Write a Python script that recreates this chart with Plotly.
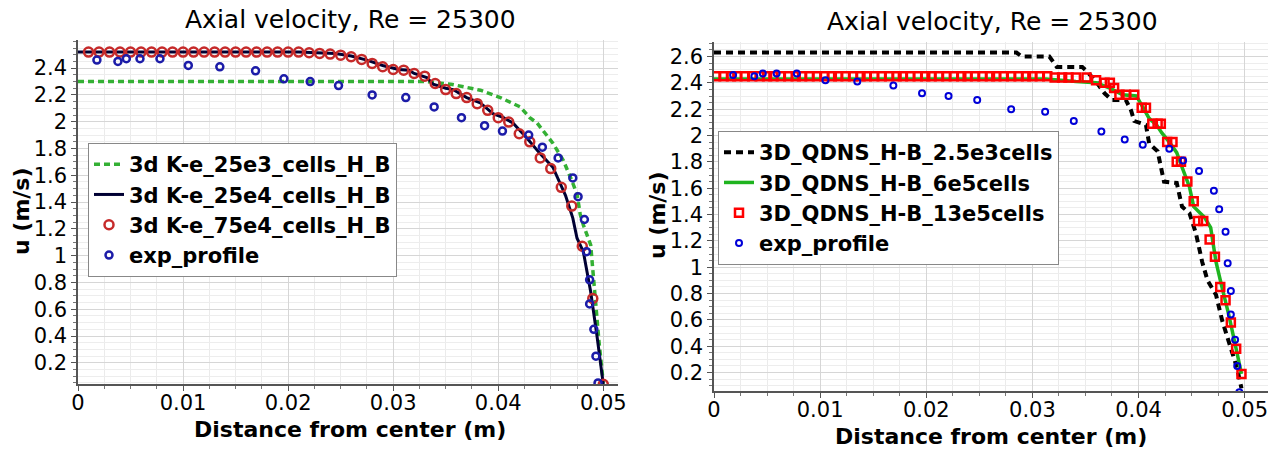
import plotly.graph_objects as go

W, H = 1281, 450

# ---------------- Left chart data ----------------
ke25e3_x = [0.0, 0.033, 0.0355, 0.0367, 0.0383, 0.0402, 0.0421, 0.0430, 0.0437, 0.0452,
            0.0462, 0.0469, 0.0475, 0.0478, 0.0481, 0.0488, 0.0490, 0.0492, 0.0496, 0.0500]
ke25e3_y = [2.30, 2.30, 2.28, 2.26, 2.235, 2.18, 2.11, 2.03, 1.99, 1.84,
            1.71, 1.58, 1.46, 1.31, 1.23, 1.08, 0.88, 0.68, 0.35, 0.05]

ke25e4_x = [0.0, 0.021, 0.0245, 0.026, 0.0275, 0.029, 0.0305, 0.0315, 0.032, 0.0332,
            0.0338, 0.0350, 0.0357, 0.0370, 0.0383, 0.0395, 0.0405, 0.0414, 0.0427, 0.0440,
            0.0452, 0.0464, 0.0471, 0.0475, 0.0481, 0.0488, 0.0494, 0.0500]
ke25e4_y = [2.52, 2.52, 2.51, 2.49, 2.46, 2.42, 2.39, 2.385, 2.36, 2.33,
            2.28, 2.25, 2.24, 2.18, 2.14, 2.06, 2.03, 1.99, 1.88, 1.76,
            1.66, 1.45, 1.28, 1.13, 1.03, 0.73, 0.40, 0.04]

ke75e4_x = [0.001, 0.002, 0.003, 0.004, 0.005, 0.006, 0.007, 0.008, 0.009, 0.010,
            0.011, 0.012, 0.013, 0.014, 0.015, 0.016, 0.017, 0.018, 0.019, 0.020,
            0.021, 0.022, 0.023, 0.024, 0.025, 0.026, 0.027, 0.028, 0.029, 0.030,
            0.031, 0.032, 0.033, 0.034, 0.035, 0.036, 0.037, 0.038, 0.039, 0.040,
            0.041, 0.042, 0.043, 0.044, 0.045, 0.046, 0.047, 0.048, 0.049, 0.050]
ke75e4_y = [2.52, 2.52, 2.52, 2.52, 2.52, 2.52, 2.52, 2.52, 2.52, 2.52,
            2.52, 2.52, 2.52, 2.52, 2.52, 2.52, 2.52, 2.52, 2.52, 2.52,
            2.52, 2.515, 2.51, 2.505, 2.497, 2.485, 2.465, 2.435, 2.41, 2.39,
            2.385, 2.36, 2.34, 2.285, 2.24, 2.21, 2.18, 2.135, 2.085, 2.03,
            1.997, 1.91, 1.85, 1.73, 1.65, 1.51, 1.37, 1.07, 0.68, 0.04]

# experimental profile (same in both charts)
exp_x = [0.0018, 0.0038, 0.0046, 0.0059, 0.0078, 0.0105, 0.0135, 0.0169, 0.0196, 0.0221,
         0.0248, 0.0280, 0.0312, 0.0339, 0.0365, 0.0387, 0.0404, 0.0429, 0.0442, 0.0457,
         0.0471, 0.0476, 0.0482, 0.0484, 0.0487, 0.0487, 0.0491, 0.0493, 0.0495]
exp_y = [2.46, 2.45, 2.47, 2.47, 2.47, 2.42, 2.41, 2.38, 2.32, 2.30,
         2.27, 2.20, 2.18, 2.11, 2.03, 1.97, 1.93, 1.90, 1.81, 1.73,
         1.58, 1.44, 1.27, 1.03, 0.82, 0.64, 0.45, 0.25, 0.05]

# ---------------- Right chart data ----------------
q25e3_x = [0.0, 0.0285, 0.0290, 0.0316, 0.0323, 0.0347, 0.0351, 0.0360, 0.0368, 0.0375,
           0.0388, 0.0393, 0.0396, 0.0407, 0.0410, 0.0418, 0.0424, 0.0436, 0.0441, 0.0448,
           0.0454, 0.0460, 0.0465, 0.0473, 0.0479, 0.0488, 0.0493, 0.0497]
q25e3_y = [2.63, 2.63, 2.60, 2.60, 2.52, 2.52, 2.49, 2.41, 2.32, 2.27,
           2.27, 2.19, 2.11, 2.08, 1.94, 1.88, 1.65, 1.64, 1.46, 1.41,
           1.26, 1.04, 0.90, 0.79, 0.59, 0.37, 0.23, 0.08]

q6e5_x = [0.0, 0.0313, 0.0341, 0.0360, 0.0373, 0.0385, 0.0398, 0.0404, 0.0410, 0.0417,
          0.0422, 0.0429, 0.0436, 0.0441, 0.0448, 0.0452, 0.0462, 0.0468, 0.0473, 0.0478,
          0.0485, 0.0492, 0.0497]
q6e5_y = [2.43, 2.43, 2.41, 2.40, 2.36, 2.31, 2.30, 2.22, 2.13, 2.08,
          2.02, 1.95, 1.87, 1.76, 1.61, 1.46, 1.38, 1.30, 1.04, 0.87,
          0.64, 0.38, 0.19]

q13e5_x = [0.0002, 0.0009, 0.0016, 0.0022, 0.0029, 0.0036, 0.0043, 0.0050, 0.0056, 0.0063,
           0.0070, 0.0077, 0.0083, 0.0090, 0.0097, 0.0104, 0.0111, 0.0117, 0.0124, 0.0131,
           0.0138, 0.0144, 0.0151, 0.0158, 0.0165, 0.0172, 0.0178, 0.0185, 0.0192, 0.0199,
           0.0205, 0.0212, 0.0219, 0.0226, 0.0233, 0.0239, 0.0246, 0.0253, 0.0260, 0.0266,
           0.0273, 0.0280, 0.0287, 0.0294, 0.0300, 0.0307, 0.0314, 0.0321, 0.0328, 0.0334,
           0.0341, 0.0351, 0.0360, 0.0368, 0.0373, 0.0377, 0.0382, 0.0388, 0.0396, 0.0403,
           0.0407, 0.0413, 0.0418, 0.0421, 0.0427, 0.0432, 0.0436, 0.0440, 0.0446, 0.0452,
           0.0456, 0.0461, 0.0467, 0.0472, 0.0477, 0.0482, 0.0487, 0.0492, 0.0497]
q13e5_y = [2.45, 2.45, 2.45, 2.45, 2.45, 2.45, 2.45, 2.45, 2.45, 2.45,
           2.45, 2.45, 2.45, 2.45, 2.45, 2.45, 2.45, 2.45, 2.45, 2.45,
           2.45, 2.45, 2.45, 2.45, 2.45, 2.45, 2.45, 2.45, 2.45, 2.45,
           2.45, 2.45, 2.45, 2.45, 2.45, 2.45, 2.45, 2.45, 2.45, 2.45,
           2.45, 2.45, 2.45, 2.45, 2.45, 2.45, 2.45, 2.44, 2.44, 2.44,
           2.44, 2.44, 2.42, 2.40, 2.40, 2.36, 2.31, 2.31, 2.31, 2.21,
           2.21, 2.09, 2.09, 2.09, 1.95, 1.95, 1.80, 1.80, 1.65, 1.50,
           1.35, 1.35, 1.21, 1.08, 0.85, 0.75, 0.58, 0.38, 0.19]

x_tickvals = [0, 0.01, 0.02, 0.03, 0.04, 0.05]
x_ticktext = ["0", "0.01", "0.02", "0.03", "0.04", "0.05"]
y_tickvals_left = [0.2, 0.4, 0.6, 0.8, 1.0, 1.2, 1.4, 1.6, 1.8, 2.0, 2.2, 2.4]
y_ticktext_left = ["0.2", "0.4", "0.6", "0.8", "1", "1.2", "1.4", "1.6", "1.8", "2", "2.2", "2.4"]
y_tickvals_right = [0.2, 0.4, 0.6, 0.8, 1.0, 1.2, 1.4, 1.6, 1.8, 2.0, 2.2, 2.4, 2.6]
y_ticktext_right = ["0.2", "0.4", "0.6", "0.8", "1", "1.2", "1.4", "1.6", "1.8", "2", "2.2", "2.4", "2.6"]

TITLE = "Axial velocity, Re = 25300"
XTITLE = "Distance from center (m)"
YTITLE = "u (m/s)"

FONT = "DejaVu Sans"

fig = go.Figure()

# Left chart traces
fig.add_trace(go.Scatter(x=ke25e3_x, y=ke25e3_y, mode="lines", name="3d K-e_25e3_cells_H_B",
                         line=dict(color="#34b034", width=3.5, dash="6px,4px"),
                         xaxis="x", yaxis="y", legend="legend"))
fig.add_trace(go.Scatter(x=ke25e4_x, y=ke25e4_y, mode="lines", name="3d K-e_25e4_cells_H_B",
                         line=dict(color="#000033", width=3),
                         xaxis="x", yaxis="y", legend="legend"))
fig.add_trace(go.Scatter(x=ke75e4_x, y=ke75e4_y, mode="markers", name="3d K-e_75e4_cells_H_B",
                         marker=dict(symbol="circle-open", size=9, color="#c62a2a",
                                     line=dict(width=2.5, color="#c62a2a")),
                         xaxis="x", yaxis="y", legend="legend"))
fig.add_trace(go.Scatter(x=exp_x, y=exp_y, mode="markers", name="exp_profile",
                         marker=dict(symbol="circle-open", size=7, color="#1c1ca8",
                                     line=dict(width=2.5, color="#1c1ca8")),
                         xaxis="x", yaxis="y", legend="legend"))

# Right chart traces
fig.add_trace(go.Scatter(x=q25e3_x, y=q25e3_y, mode="lines", name="3D_QDNS_H-B_2.5e3cells",
                         line=dict(color="#000000", width=4, dash="7px,5px"),
                         xaxis="x2", yaxis="y2", legend="legend2"))
fig.add_trace(go.Scatter(x=q6e5_x, y=q6e5_y, mode="lines", name="3D_QDNS_H-B_6e5cells",
                         line=dict(color="#1fb41f", width=3.5),
                         xaxis="x2", yaxis="y2", legend="legend2"))
fig.add_trace(go.Scatter(x=q13e5_x, y=q13e5_y, mode="markers", name="3D_QDNS_H-B_13e5cells",
                         marker=dict(symbol="square-open", size=8, color="#ff0000",
                                     line=dict(width=2.5, color="#ff0000")),
                         xaxis="x2", yaxis="y2", legend="legend2"))
fig.add_trace(go.Scatter(x=exp_x, y=exp_y, mode="markers", name="exp_profile",
                         marker=dict(symbol="circle-open", size=6, color="#0000d8",
                                     line=dict(width=2, color="#0000d8")),
                         xaxis="x2", yaxis="y2", legend="legend2"))


def px_x(p):
    return p / W


def px_y(p):
    return 1 - p / H


def xaxis_cfg(d0, d1, rng, anchor):
    return dict(domain=[px_x(d0), px_x(d1)], range=rng, anchor=anchor, automargin=False,
                tickvals=x_tickvals, ticktext=x_ticktext, ticklabelstandoff=-6,
                tickfont=dict(family=FONT, size=21, color="black"),
                showline=True, linecolor="#555555", linewidth=1.5,
                ticks="outside", ticklen=5, tickcolor="#555555",
                showgrid=True, gridcolor="#d6d6d6", gridwidth=1, zeroline=False,
                minor=dict(dtick=0.0025, showgrid=True, gridcolor="#ebebeb",
                           ticks="outside", ticklen=3, tickcolor="#777777"))


def yaxis_cfg(d0, d1, rng, anchor, tv, tt):
    return dict(domain=[px_y(d1), px_y(d0)], range=rng, anchor=anchor, automargin=False,
                tickvals=tv, ticktext=tt,
                tickfont=dict(family=FONT, size=21, color="black"),
                showline=True, linecolor="#555555", linewidth=1.5,
                ticks="outside", ticklen=5, tickcolor="#555555",
                showgrid=True, gridcolor="#d6d6d6", gridwidth=1, zeroline=False,
                minor=dict(dtick=0.05, showgrid=True, gridcolor="#ededed",
                           ticks="outside", ticklen=3, tickcolor="#777777"))


legend_common = dict(xanchor="left", yanchor="top", bgcolor="white",
                     bordercolor="#888888", borderwidth=1,
                     font=dict(family=FONT, size=21, color="black", weight="bold"),
                     itemwidth=30, tracegroupgap=0)

fig.update_layout(
    width=W, height=H,
    margin=dict(l=0, r=0, t=0, b=0, autoexpand=False),
    paper_bgcolor="white", plot_bgcolor="white",
    showlegend=True,
    xaxis=xaxis_cfg(78, 618, [0, 0.0514], "y"),
    yaxis=yaxis_cfg(40, 384, [0.042, 2.61], "x", y_tickvals_left, y_ticktext_left),
    xaxis2=xaxis_cfg(714, 1268, [0, 0.0522], "y2"),
    yaxis2=yaxis_cfg(42, 391, [0.06, 2.71], "x2", y_tickvals_right, y_ticktext_right),
    legend=dict(x=px_x(88), y=px_y(143), **legend_common),
    legend2=dict(x=px_x(718), y=px_y(131), **legend_common),
)

annots = [
    dict(text=TITLE, x=px_x(350), y=px_y(20), font=dict(family=FONT, size=25, color="black")),
    dict(text=TITLE, x=px_x(992), y=px_y(22), font=dict(family=FONT, size=25, color="black")),
    dict(text=XTITLE, x=px_x(350), y=px_y(429),
         font=dict(family=FONT, size=22, color="black", weight="bold")),
    dict(text=XTITLE, x=px_x(991), y=px_y(436),
         font=dict(family=FONT, size=22, color="black", weight="bold")),
    dict(text=YTITLE, x=px_x(22), y=px_y(212), textangle=-90,
         font=dict(family=FONT, size=22, color="black", weight="bold")),
    dict(text=YTITLE, x=px_x(657), y=px_y(216), textangle=-90,
         font=dict(family=FONT, size=22, color="black", weight="bold")),
]
for a in annots:
    fig.add_annotation(xref="paper", yref="paper", showarrow=False,
                       xanchor="center", yanchor="middle", **a)

fig.write_html("out.html")
